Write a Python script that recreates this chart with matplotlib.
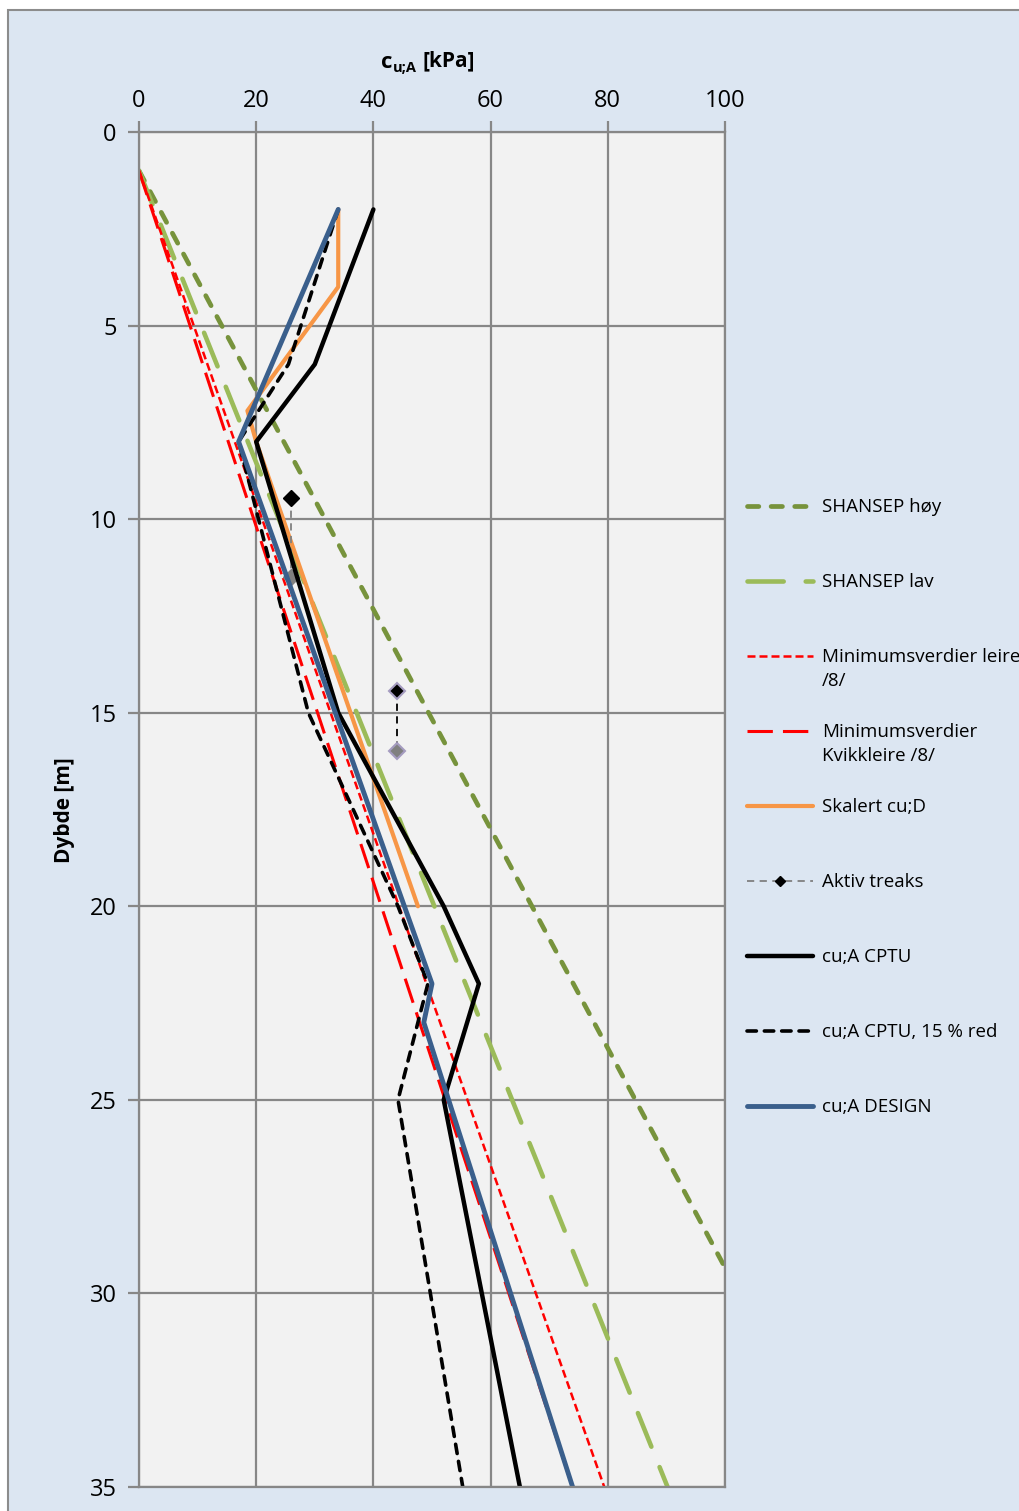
import numpy as np
import matplotlib.pyplot as plt
from matplotlib.lines import Line2D
from matplotlib.patches import Rectangle

plt.rcParams['font.family'] = ['Open Sans', 'DejaVu Sans']

# depth [m] and c_u;A [kPa] for each series
shansep_hoy_z = [1, 35]
shansep_hoy_cu = [0, 120.0]
shansep_lav_z = [1, 35]
shansep_lav_cu = [0, 90.2]
min_leire_z = [1, 35]
min_leire_cu = [0, 79.4]
min_kvikk_z = [1, 35]
min_kvikk_cu = [0, 74.0]
skalert_z = [2, 4, 7.2, 8, 20]
skalert_cu = [34, 34, 18.5, 20, 47.6]
treaks1_z = [9.45, 11.5]
treaks1_cu = [26, 26]
treaks2_z = [14.45, 16.0]
treaks2_cu = [44, 44]
cptu_z = [2, 6, 8, 15, 20, 22, 25, 35]
cptu_cu = [40, 30, 20, 34, 52, 58, 52, 65]
cptu_red_z = cptu_z
cptu_red_cu = [0.85 * v for v in cptu_cu]
design_z = [2, 8, 22, 23, 35]
design_cu = [34, 17, 50, 48.6, 74]

W, H = 1020, 1511
fig = plt.figure(figsize=(W / 100, H / 100), dpi=100, facecolor='white')

def fx(px):
    return px / W

def fy(py):
    return 1 - py / H

# chart area background with thin frame
fig.add_artist(Rectangle((fx(8), fy(1520)), fx(1030), fy(10) - fy(1520),
                         transform=fig.transFigure, facecolor='#dce6f2',
                         edgecolor='#8c8c8c', linewidth=1.5, zorder=0))

ax = fig.add_axes([fx(139), fy(1487), fx(725) - fx(139), fy(132) - fy(1487)])
ax.set_facecolor('#f2f2f2')

grid_c = '#878787'
for s in ax.spines.values():
    s.set_color(grid_c)
    s.set_linewidth(1.6)

styles = [
    dict(color='#77933c', lw=3.4, dashes=(2.4, 2.6), dash_capstyle='round'),
    dict(color='#9bbb59', lw=3.3, dashes=(7.9, 4.8), dash_capstyle='round'),
    dict(color='#ff0000', lw=1.8, dashes=(3.2, 1.6)),
    dict(color='#ff0000', lw=2.2, dashes=(8.3, 3.3)),
    dict(color='#f79646', lw=3.0, solid_capstyle='round'),
    dict(color='#000000', lw=3.2, solid_capstyle='round'),
    dict(color='#000000', lw=2.6, dashes=(2.6, 2.2), dash_capstyle='round'),
    dict(color='#3a5f8c', lw=3.5, solid_capstyle='round'),
]

ax.plot(shansep_hoy_cu, shansep_hoy_z, **styles[0])
ax.plot(shansep_lav_cu, shansep_lav_z, **styles[1])
ax.plot(min_leire_cu, min_leire_z, **styles[2])
ax.plot(min_kvikk_cu, min_kvikk_z, **styles[3])
ax.plot(skalert_cu, skalert_z, **styles[4])

# active treaks, each pair joined with a thin dashed line
ax.plot(treaks1_cu, treaks1_z, color='#808080', lw=1.3, dashes=(4, 3))
ax.plot(treaks2_cu, treaks2_z, color='#000000', lw=1.3, dashes=(4, 3))
ax.plot(treaks1_cu[0], treaks1_z[0], 'D', color='black', ms=8)
ax.plot(treaks1_cu[1], treaks1_z[1], 'D', color='#808080', ms=8)
ax.plot(treaks2_cu[0], treaks2_z[0], 'D', color='black', ms=8, mec='#a59cc0', mew=1.5)
ax.plot(treaks2_cu[1], treaks2_z[1], 'D', color='#808080', ms=8, mec='#a59cc0', mew=1.5)

ax.plot(cptu_cu, cptu_z, **styles[5])
ax.plot(cptu_red_cu, cptu_red_z, **styles[6])
ax.plot(design_cu, design_z, **styles[7])

ax.set_xlim(0, 100)
ax.set_ylim(35, 0)
ax.set_xticks(np.arange(0, 101, 20))
ax.set_yticks(np.arange(0, 36, 5))
ax.xaxis.tick_top()
ax.tick_params(axis='both', direction='out', length=8, width=1.6, color=grid_c,
               labelsize=17)
ax.tick_params(axis='x', pad=6)
ax.tick_params(axis='y', pad=8)
ax.grid(True, color=grid_c, lw=1.6)
ax.set_axisbelow(True)

# axis titles; subscript written as its own smaller text
fig.text(fx(381), fy(62), 'c', ha='left', va='center', fontsize=16, fontweight='bold')
fig.text(fx(393), fy(68), 'u;A', ha='left', va='center', fontsize=10.5, fontweight='bold')
fig.text(fx(423), fy(61), '[kPa]', ha='left', va='center', fontsize=15, fontweight='bold')
fig.text(fx(65), fy(810), 'Dybde [m]', ha='center', va='center', rotation=90,
         fontsize=15, fontweight='bold')

# legend on the right
labels = ['SHANSEP høy', 'SHANSEP lav', 'Minimumsverdier leire\n/8/',
          'Minimumsverdier\nKvikkleire /8/', 'Skalert cu;D', 'Aktiv treaks',
          'cu;A CPTU', 'cu;A CPTU, 15 % red', 'cu;A DESIGN']
leg_styles = styles[:5] + [dict(color='#808080', lw=1.3, dashes=(4, 3))] + styles[5:]
for i, (lab, st) in enumerate(zip(labels, leg_styles)):
    y = 506 + 75 * i
    fig.add_artist(Line2D([fx(747), fx(813)], [fy(y), fy(y)],
                          transform=fig.transFigure, **st))
    if lab == 'Aktiv treaks':
        fig.add_artist(Line2D([fx(780)], [fy(y)], transform=fig.transFigure,
                              marker='D', color='black', ms=5, lw=0))
    # first text line centred on the handle
    fig.text(fx(822), fy(y - 8), lab, ha='left', va='top', fontsize=13.5,
             linespacing=1.45, transform=fig.transFigure)

fig.savefig('out.png', dpi=100)
